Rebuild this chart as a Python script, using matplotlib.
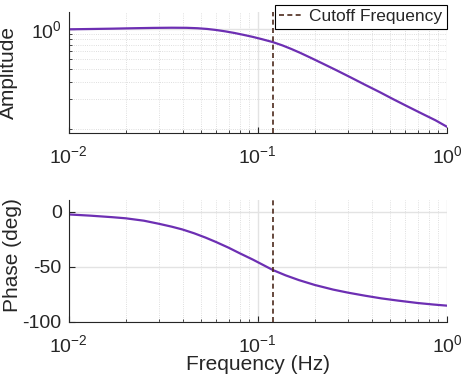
import numpy as np
import matplotlib
matplotlib.use('Agg')
import matplotlib.pyplot as plt
import matplotlib.ticker as mticker

# values
freq_amp = [0.01, 0.013, 0.017, 0.022, 0.028, 0.035, 0.042, 0.048, 0.054,
            0.06, 0.067, 0.075, 0.084, 0.094, 0.105, 0.12, 0.135, 0.15,
            0.167, 0.19, 0.22, 0.26, 0.31, 0.37, 0.44, 0.52, 0.62, 0.74,
            0.87, 1.0]
amplitude = [1.0, 1.007, 1.015, 1.025, 1.033, 1.037, 1.035, 1.025, 1.008,
             0.985, 0.955, 0.92, 0.88, 0.84, 0.797, 0.745, 0.69, 0.637,
             0.583, 0.52, 0.455, 0.39, 0.33, 0.278, 0.236, 0.2, 0.169, 0.143,
             0.123, 0.106]

freq_phase = [0.01, 0.013, 0.017, 0.02, 0.025, 0.03, 0.035, 0.04, 0.046,
              0.053, 0.06, 0.07, 0.08, 0.094, 0.105, 0.12, 0.14, 0.165, 0.2,
              0.25, 0.3, 0.37, 0.45, 0.55, 0.7, 0.85, 1.0]
phase = [-2.5, -3.6, -5.0, -6.0, -8.2, -11.0, -13.6, -16.2, -19.6,
         -23.6, -27.5, -32.7, -37.7, -43.5, -47.8, -53.0, -57.8, -62.2, -66.6,
         -70.8, -73.6, -76.4, -78.8, -80.8, -83.0, -84.4, -85.4]

cutoff = 0.12

text_col = '#262626'
curve_col = '#6d2fb3'
cut_col = '#4d2a1c'

plt.rcParams['font.family'] = ['Liberation Sans', 'DejaVu Sans']
plt.rcParams['axes.unicode_minus'] = False
plt.rcParams['text.color'] = text_col
plt.rcParams['axes.labelcolor'] = text_col
plt.rcParams['xtick.color'] = text_col
plt.rcParams['ytick.color'] = text_col
plt.rcParams['axes.edgecolor'] = text_col

fig = plt.figure(figsize=(4.61, 3.81), dpi=100)
ax1 = fig.add_axes([0.149, 0.6517, 0.8206, 0.3176])
ax2 = fig.add_axes([0.149, 0.1556, 0.8206, 0.3194])


def style_axis(ax):
    ax.set_xscale('log')
    ax.set_xlim(0.01, 1.0)
    ax.spines['top'].set_visible(False)
    ax.spines['right'].set_visible(False)
    for s in ('left', 'bottom'):
        ax.spines[s].set_linewidth(0.8)
    ax.xaxis.set_major_locator(mticker.LogLocator(base=10))
    ax.xaxis.set_minor_locator(mticker.LogLocator(base=10, subs=np.arange(2, 10)))
    ax.xaxis.set_minor_formatter(mticker.NullFormatter())
    ax.tick_params(which='both', direction='in', labelsize=14)
    ax.tick_params(which='major', length=4, width=0.8)
    ax.tick_params(which='minor', length=2.5, width=0.6)
    ax.tick_params(axis='x', which='major', pad=9)
    ax.tick_params(axis='y', which='major', pad=5)
    ax.set_axisbelow(True)
    ax.grid(True, which='major', color='#e3e3e3', linewidth=1.0, linestyle='-')
    ax.grid(True, which='minor', axis='x', color='#d4d4d4', linewidth=0.6,
            linestyle=':')


# amplitude
style_axis(ax1)
ax1.set_yscale('log')
ax1.set_ylim(0.0925, 1.5)
ax1.yaxis.set_major_locator(mticker.FixedLocator([1.0]))
ax1.yaxis.set_minor_locator(mticker.FixedLocator(np.arange(1, 10) / 10))
ax1.yaxis.set_minor_formatter(mticker.NullFormatter())
ax1.yaxis.set_major_formatter(mticker.LogFormatterSciNotation())
ax1.grid(True, which='minor', axis='y', color='#d4d4d4', linewidth=0.6,
         linestyle=':')
ax1.plot(freq_amp, amplitude, color=curve_col, linewidth=1.6)
ax1.axvline(cutoff, color=cut_col, linestyle=(0, (3, 2)), linewidth=1.2,
            label='Cutoff Frequency')
ax1.set_ylabel('Amplitude', fontsize=15)
ax1.yaxis.set_label_coords(-0.134, 0.5)
leg = ax1.legend(loc='upper right', bbox_to_anchor=(446.7 / 461, 1 - 5 / 381),
                 bbox_transform=fig.transFigure, borderaxespad=0, fontsize=12.5,
                 fancybox=False, framealpha=1, edgecolor='black',
                 handlelength=1.45, handletextpad=0.3, borderpad=0.25)
leg.get_frame().set_linewidth(0.8)

# phase
style_axis(ax2)
ax2.set_ylim(-100, 10.6)
ax2.yaxis.set_major_locator(mticker.FixedLocator([-100, -50, 0]))
ax2.plot(freq_phase, phase, color=curve_col, linewidth=1.6)
ax2.axvline(cutoff, color=cut_col, linestyle=(0, (3, 2)), linewidth=1.2)
ax2.set_ylabel('Phase (deg)', fontsize=15)
ax2.yaxis.set_label_coords(-0.124, 0.548)
ax2.set_xlabel('Frequency (Hz)', fontsize=15, va='top')
ax2.xaxis.set_label_coords(0.5, -0.27)

fig.savefig('out.png', dpi=100)
